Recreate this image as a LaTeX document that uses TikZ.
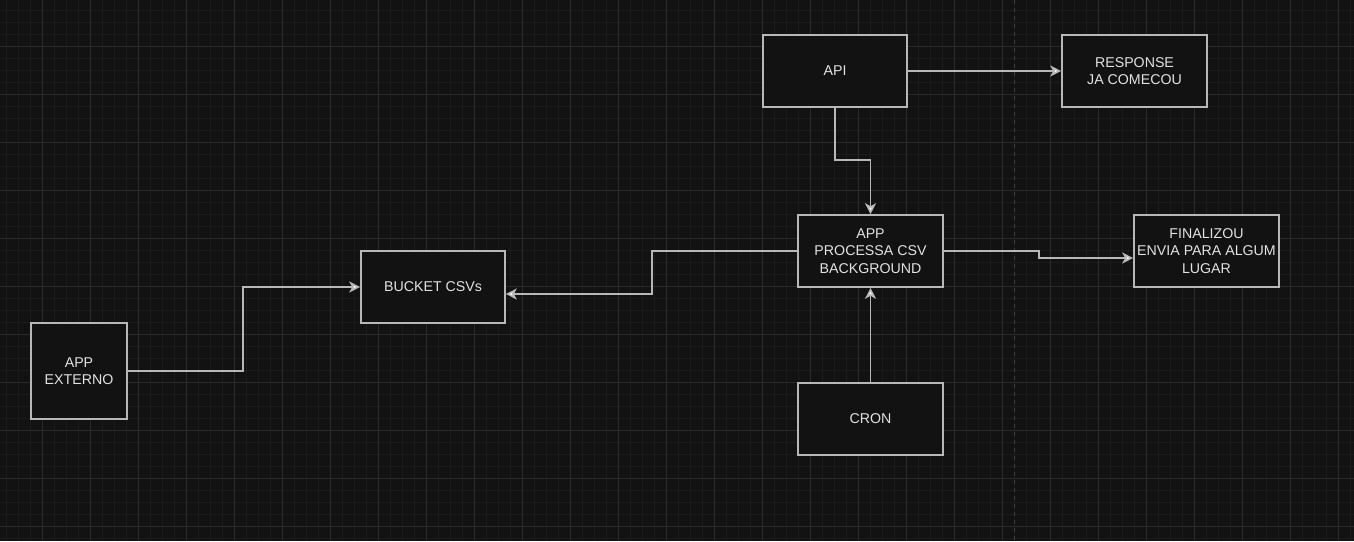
\documentclass[tikz,border=0pt]{standalone}
\usepackage{fontspec}
\setmainfont{Liberation Sans}
\usetikzlibrary{arrows.meta}
\definecolor{bg}{HTML}{121212}
\definecolor{gmin}{HTML}{1B1B1B}
\definecolor{gmaj}{HTML}{2A2A2A}
\definecolor{edge}{HTML}{B8B8B8}
\definecolor{txt}{HTML}{E2E2E2}
\definecolor{dashc}{HTML}{3E3E3E}
\tikzset{
  box/.style={draw=edge, fill=bg, line width=1.6pt, rectangle, inner sep=0pt,
    minimum width=144pt, minimum height=72pt, align=center, text=txt,
    font=\fontsize{14.2}{17.6}\selectfont},
  arr/.style={draw=edge, line width=1.6pt, -{Stealth[length=11pt,width=11pt,inset=3pt,fill=white]}},
  plain/.style={draw=edge, line width=1.6pt}
}
\begin{document}
\begin{tikzpicture}[x=1pt,y=-1pt]
\fill[bg] (0,0) rectangle (1354,541);
\useasboundingbox (0,0) rectangle (1354,541);
% minor grid
\foreach \x in {6,18,...,1354} \draw[gmin, line width=1pt] (\x,0) -- (\x,541);
\foreach \y in {10,22,...,541} \draw[gmin, line width=1pt] (0,\y) -- (1354,\y);
% major grid
\foreach \x in {42,90,...,1354} \draw[gmaj, line width=1pt] (\x,0) -- (\x,541);
\foreach \y in {46,94,...,541} \draw[gmaj, line width=1pt] (0,\y) -- (1354,\y);
% dashed page break
\draw[dashc, line width=1pt, dash pattern=on 4pt off 4pt] (1014.5,0) -- (1014.5,541);

\node[box] (api) at (835,71) {API};
\node[box, minimum width=145pt] (resp) at (1134.5,71) {RESPONSE\\JA COMECOU};
\node[box, minimum width=145pt] (proc) at (870.5,251) {APP\\PROCESSA CSV\\BACKGROUND};
\node[box, minimum width=145pt] (fin) at (1206.5,251) {FINALIZOU\\ENVIA PARA ALGUM\\LUGAR};
\node[box] (bucket) at (433,287) {BUCKET CSVs};
\node[box, minimum width=96pt, minimum height=96pt] (ext) at (79,371) {APP\\EXTERNO};
\node[box, minimum width=145pt] (cron) at (870.5,419) {CRON};

\coordinate (a1) at (835,160);
\coordinate (a2) at (870.5,160);
\coordinate (b1) at (652,251);
\coordinate (b2) at (652,294);
\coordinate (c1) at (1039,251);
\coordinate (c2) at (1039,258);
\coordinate (d1) at (243,371);
\coordinate (d2) at (243,287);

\draw[arr] (api.east) -- (resp.west);
\draw[arr] (api.south) -- (a1) -- (a2) -- (proc.north);
\draw[arr] (proc.west) -- (b1) -- (b2) -- ([yshift=-7pt]bucket.east);
\draw[arr] (proc.east) -- (c1) -- (c2) -- ([yshift=-7pt]fin.west);
\draw[arr] (cron.north) -- (proc.south);
\draw[arr] (ext.east) -- (d1) -- (d2) -- (bucket.west);
\end{tikzpicture}
\end{document}
